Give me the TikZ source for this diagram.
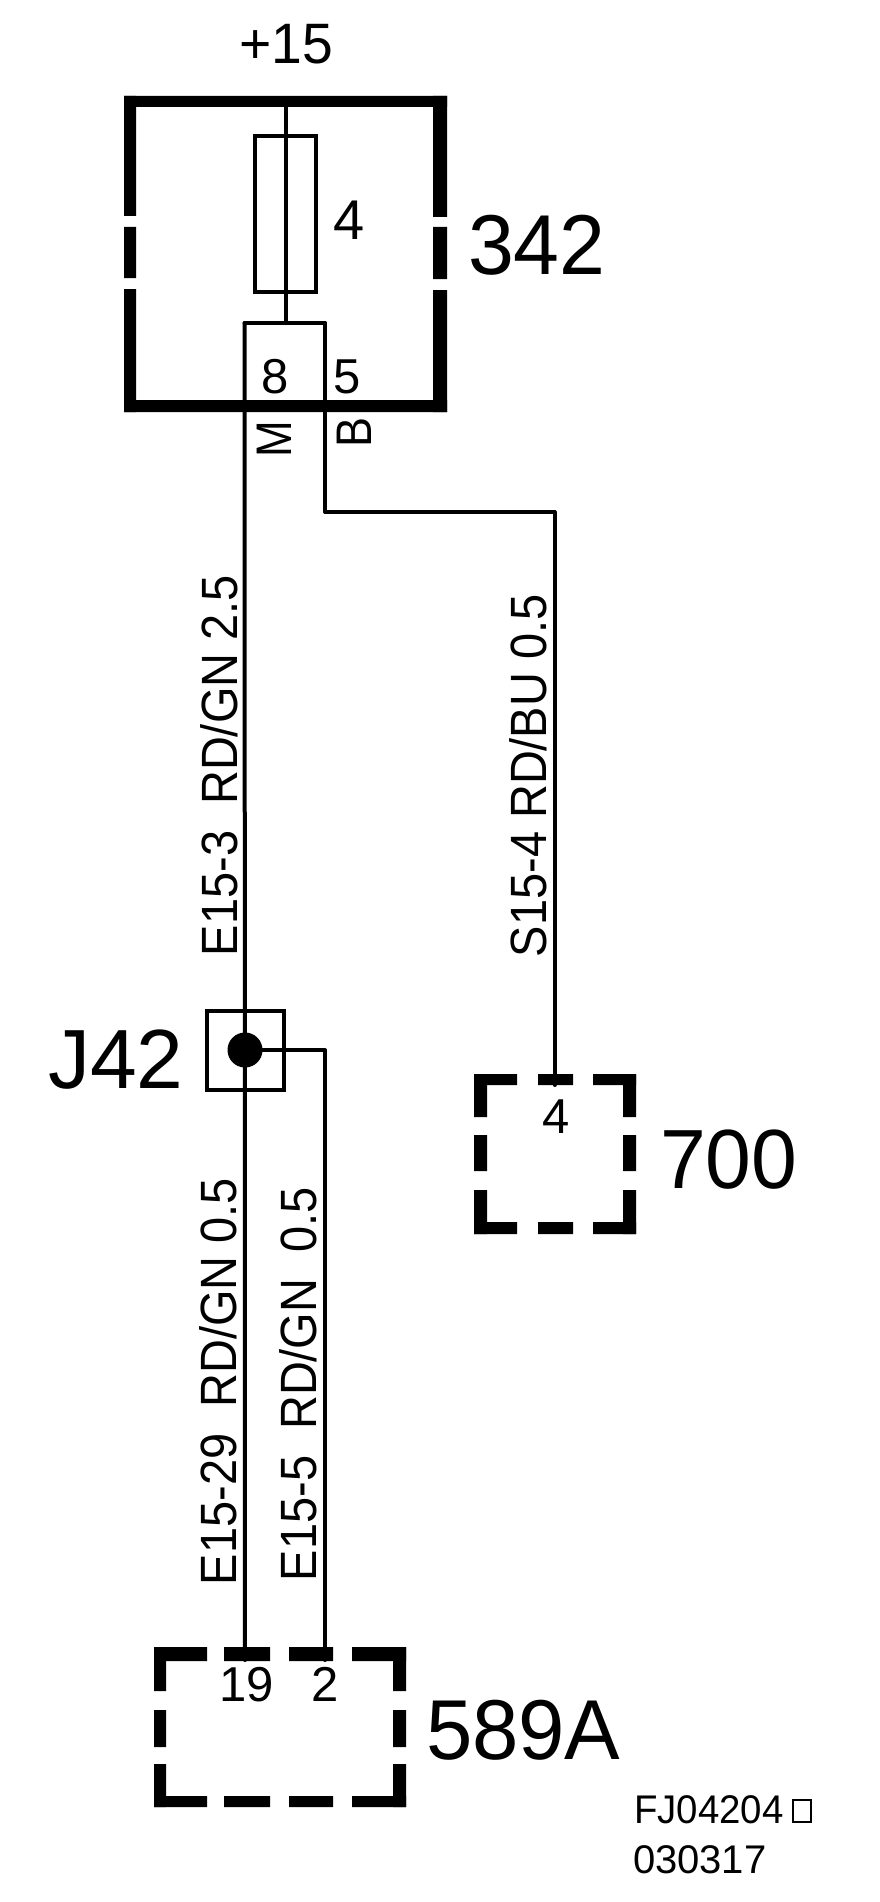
\documentclass[tikz,border=0pt]{standalone}
\usepackage{fontspec}
\usepackage{graphicx}
\setmainfont{Liberation Sans}
\newcommand{\lab}[3]{\scalebox{#2}[1]{\fontsize{#1}{#1}\selectfont #3}}
\tikzset{
  wire/.style={draw=black,line width=4pt,line cap=round,line join=round},
  thin box/.style={draw=black,line width=4pt,line join=miter},
  txt/.style={inner sep=0pt,outer sep=0pt,anchor=base west,text=black},
  vtxt/.style={txt,rotate=90},
  bar/.style={fill=black}
}
\begin{document}
\begin{tikzpicture}[x=1pt,y=-1pt]
\useasboundingbox (0,0) rectangle (880,1902);
% component 342 frame
\fill[bar] (124,96) rectangle (447,107) (124,400) rectangle (447,412);
\fill[bar] (124,96) rectangle (136,216) (124,227) rectangle (136,278) (124,289) rectangle (136,412);
\fill[bar] (433,96) rectangle (447,217) (433,227) rectangle (447,279) (433,290) rectangle (447,412);
% component 700 frame
\fill[bar] (474,1074) rectangle (517,1085) (538,1074) rectangle (573,1085) (593,1074) rectangle (636,1085);
\fill[bar] (474,1222) rectangle (517,1234) (538,1222) rectangle (573,1234) (593,1222) rectangle (636,1234);
\fill[bar] (474,1074) rectangle (487,1117) (474,1135) rectangle (487,1171) (474,1190) rectangle (487,1234);
\fill[bar] (623,1074) rectangle (636,1117) (623,1135) rectangle (636,1171) (623,1190) rectangle (636,1234);
% component 589A frame
\fill[bar] (154,1647) rectangle (207,1661) (224,1647) rectangle (270,1661) (289,1647) rectangle (333,1661) (352,1647) rectangle (406,1661);
\fill[bar] (154,1796) rectangle (207,1807) (224,1796) rectangle (270,1807) (289,1796) rectangle (333,1807) (352,1796) rectangle (406,1807);
\fill[bar] (154,1647) rectangle (166,1691) (154,1710) rectangle (166,1747) (154,1764) rectangle (166,1807);
\fill[bar] (393,1647) rectangle (406,1691) (393,1710) rectangle (406,1747) (393,1764) rectangle (406,1807);
% points
\coordinate (top15) at (285.5,100);
\coordinate (fuse top) at (285.5,136);
\coordinate (pinL top) at (244.6,323);
\coordinate (pinM top) at (285.5,323);
\coordinate (pinR top) at (325,323);
\coordinate (bend1) at (325,512);
\coordinate (bend2) at (554.5,512);
\coordinate (pin700) at (554.5,1085);
\coordinate (splice) at (245,1050);
\coordinate (bend3) at (325,1050);
\coordinate (pin19) at (245,1660);
\coordinate (pin2) at (325,1660);
% fuse and pin box
\node[thin box,minimum width=61.5pt,minimum height=156pt,inner sep=0pt] (fuse) at (285.25,214) {};
\draw[wire] (top15) -- (pinM top);
\draw[wire] (pinL top) -- (pinR top);
% wires
\draw[wire] (pinL top) -- (pin19);
\draw[wire] (pinR top) -- (bend1) -- (bend2) -- (pin700);
\draw[wire] (splice) -- (bend3) -- (pin2);
% splice J42
\node[thin box,line width=4.5pt,minimum width=77pt,minimum height=79pt,inner sep=0pt] (j42box) at (245.5,1050.5) {};
\node[fill=black,circle,minimum size=35pt,inner sep=0pt] (dot) at (splice) {};
% labels
\node[txt] (l15) at (239,64) {\lab{57}{.97}{+15}};
\node[txt] (l4) at (333,240) {\lab{56}{1}{4}};
\node[txt] (l342) at (468,274) {\lab{85}{.97}{342}};
\node[txt] (l8) at (261,393) {\lab{49}{1}{8}};
\node[txt] (l5) at (333,393) {\lab{49}{1}{5}};
\node[vtxt] (lM) at (291,457) {\lab{50}{.88}{M}};
\node[vtxt] (lB) at (371,447) {\lab{50}{.9}{B}};
\node[vtxt] (e153) at (237,956) {\lab{51}{.92}{E15-3\ \ RD/GN 2.5}};
\node[vtxt] (s154) at (546,957) {\lab{51}{.92}{S15-4 RD/BU 0.5}};
\node[vtxt] (e1529) at (236,1585) {\lab{51}{.92}{E15-29\ \ RD/GN 0.5}};
\node[vtxt] (e155) at (316,1581) {\lab{51}{.92}{E15-5\ \ RD/GN\ \ 0.5}};
\node[txt] (lj42) at (48,1088) {\lab{84}{1}{J42}};
\node[txt] (l4b) at (542,1133) {\lab{49}{1}{4}};
\node[txt] (l700) at (660,1188) {\lab{84}{.98}{700}};
\node[txt] (l19) at (219,1701) {\lab{49}{1}{19}};
\node[txt] (l2) at (311,1701) {\lab{49}{1}{2}};
\node[txt] (l589) at (426,1759) {\lab{85}{.98}{589A}};
\node[txt] (lfj) at (634,1823) {\lab{40}{.96}{FJ04204}};
\node[draw=black,line width=2pt,minimum width=18pt,minimum height=22pt,inner sep=0pt] (tofu) at (802,1811) {};
\node[txt] (ldate) at (633,1873) {\lab{40}{1}{030317}};
\end{tikzpicture}
\end{document}
